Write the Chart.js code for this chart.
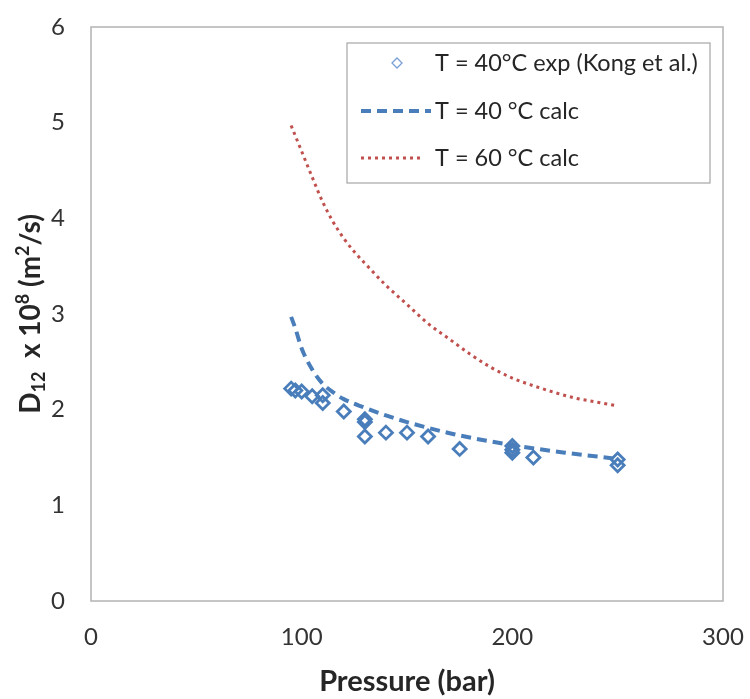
<!DOCTYPE html>
<html>
<head>
<meta charset="utf-8">
<script src="https://cdn.jsdelivr.net/npm/chart.js@4.4.1/dist/chart.umd.min.js"></script>
<style>
  html, body { margin: 0; padding: 0; background: #fff; }
  #wrap { width: 750px; height: 699px; }
</style>
</head>
<body>
<div id="wrap"><canvas id="diffChart" width="750" height="699"></canvas></div>
<script>
// experimental points, T = 40 °C (Kong et al.)
var pressureExp = [95, 97, 100, 105, 110, 110, 120, 130, 130, 130, 140, 150, 160, 175, 200, 200, 200, 210, 250, 250];
var diffExp = [2.22, 2.20, 2.19, 2.14, 2.15, 2.07, 1.98, 1.90, 1.87, 1.72, 1.76, 1.76, 1.72, 1.59, 1.62, 1.58, 1.55, 1.50, 1.48, 1.42];

// calculated, T = 40 °C
var pressureCalc40 = [95, 97, 100, 105, 110, 115, 120, 130, 140, 150, 160, 175, 200, 225, 248];
var diffCalc40 = [2.97, 2.85, 2.64, 2.42, 2.27, 2.18, 2.11, 2.02, 1.94, 1.87, 1.81, 1.73, 1.63, 1.55, 1.49];

// calculated, T = 60 °C
var pressureCalc60 = [95, 100, 105, 110, 115, 120, 125, 130, 140, 150, 160, 170, 180, 190, 200, 210, 220, 230, 240, 250];
var diffCalc60 = [4.97, 4.70, 4.43, 4.17, 3.96, 3.79, 3.65, 3.53, 3.30, 3.10, 2.90, 2.74, 2.58, 2.44, 2.33, 2.25, 2.18, 2.12, 2.08, 2.04];

var seriesLabels = ["T = 40°C exp (Kong et al.)", "T = 40 °C calc", "T = 60 °C calc"];
var xTicks = [0, 100, 200, 300];
var yTicks = [0, 1, 2, 3, 4, 5, 6];

function toPoints(xs, ys) {
  return xs.map(function (x, i) { return { x: x, y: ys[i] }; });
}

var BLUE = "#4a7ebb";
var RED = "#c0504d";
var FONT = "Lato, 'Open Sans', sans-serif";

// grey box round the plot area
var frame = {
  id: "frame",
  beforeDatasetsDraw: function (chart) {
    var a = chart.chartArea, ctx = chart.ctx;
    ctx.save();
    ctx.strokeStyle = "#b3b3b3";
    ctx.lineWidth = 1.5;
    ctx.strokeRect(a.left, a.top, a.right - a.left, a.bottom - a.top);
    ctx.restore();
  }
};

// y title with sub- and superscripts
var yTitle = {
  id: "yTitle",
  afterDraw: function (chart) {
    var ctx = chart.ctx, a = chart.chartArea;
    var parts = [
      ["D", 0], ["12", 1], ["  x 10", 0], ["8", -1], [" (m", 0], ["2", -1], ["/s)", 0]
    ];
    var big = "bold 28px " + FONT, small = "bold 18px " + FONT;
    ctx.save();
    var total = 0;
    parts.forEach(function (p) {
      ctx.font = p[1] ? small : big;
      total += ctx.measureText(p[0]).width;
    });
    ctx.translate(31, (a.top + a.bottom) / 2);
    ctx.rotate(-Math.PI / 2);
    ctx.fillStyle = "#262626";
    ctx.textBaseline = "middle";
    var x = -total / 2;
    parts.forEach(function (p) {
      ctx.font = p[1] ? small : big;
      ctx.fillText(p[0], x, p[1] * 8);
      x += ctx.measureText(p[0]).width;
    });
    ctx.restore();
  }
};

// legend box as in the original sheet
var boxLegend = {
  id: "boxLegend",
  afterDraw: function (chart) {
    var ctx = chart.ctx;
    var L = 347, T = 43, R = 710, B = 183;
    ctx.save();
    ctx.fillStyle = "#fff";
    ctx.fillRect(L, T, R - L, B - T);
    ctx.strokeStyle = "#a6a6a6";
    ctx.lineWidth = 1.2;
    ctx.strokeRect(L, T, R - L, B - T);
    var rows = [63, 111, 158];
    chart.data.datasets.forEach(function (ds, i) {
      var y = rows[i];
      if (i === 0) {
        ctx.strokeStyle = "#7a9fd6";
        ctx.lineWidth = 1.3;
        ctx.beginPath();
        ctx.moveTo(397 - 5, y);
        ctx.lineTo(397, y - 5);
        ctx.lineTo(397 + 5, y);
        ctx.lineTo(397, y + 5);
        ctx.closePath();
        ctx.stroke();
      } else {
        ctx.strokeStyle = ds.borderColor;
        ctx.lineWidth = ds.borderWidth;
        ctx.setLineDash(ds.borderDash);
        ctx.beginPath();
        ctx.moveTo(361, y);
        ctx.lineTo(i === 1 ? 431 : 424, y);
        ctx.stroke();
        ctx.setLineDash([]);
      }
      ctx.fillStyle = "#262626";
      ctx.font = "23.5px " + FONT;
      ctx.textBaseline = "middle";
      ctx.fillText(ds.label, 435, y);
    });
    ctx.restore();
  }
};

function noOverflow(s) {
  s.paddingLeft = 0; s.paddingRight = 0; s.paddingTop = 0; s.paddingBottom = 0;
}

new Chart(document.getElementById("diffChart"), {
  type: "scatter",
  data: {
    datasets: [
      {
        label: seriesLabels[0],
        data: toPoints(pressureExp, diffExp),
        pointStyle: "rectRot",
        pointRadius: 6.5,
        pointBorderWidth: 2.8,
        borderColor: BLUE,
        backgroundColor: "rgba(255,255,255,0)",
        showLine: false,
        order: 1
      },
      {
        label: seriesLabels[1],
        data: toPoints(pressureCalc40, diffCalc40),
        showLine: true,
        borderColor: BLUE,
        borderWidth: 4,
        borderDash: [10, 6],
        pointRadius: 0,
        cubicInterpolationMode: "monotone",
        order: 2
      },
      {
        label: seriesLabels[2],
        data: toPoints(pressureCalc60, diffCalc60),
        showLine: true,
        borderColor: RED,
        borderWidth: 3,
        borderDash: [3, 4],
        pointRadius: 0,
        cubicInterpolationMode: "monotone",
        order: 3
      }
    ]
  },
  options: {
    responsive: false,
    animation: false,
    layout: { padding: { top: 27, right: 27, left: 0, bottom: 0 } },
    plugins: {
      legend: { display: false },
      tooltip: { enabled: false }
    },
    scales: {
      x: {
        type: "linear",
        min: xTicks[0],
        max: xTicks[xTicks.length - 1],
        afterBuildTicks: function (s) { s.ticks = xTicks.map(function (v) { return { value: v }; }); },
        afterFit: function (s) { s.height = 98; noOverflow(s); },
        grid: { display: false, drawTicks: false },
        border: { display: false },
        ticks: { padding: 22, color: "#333", font: { family: FONT, size: 24 } },
        title: {
          display: true,
          text: "Pressure (bar)",
          color: "#262626",
          padding: { top: 0, bottom: 0 },
          font: { family: FONT, size: 29, weight: "bold" }
        }
      },
      y: {
        type: "linear",
        min: yTicks[0],
        max: yTicks[yTicks.length - 1],
        afterBuildTicks: function (s) { s.ticks = yTicks.map(function (v) { return { value: v }; }); },
        afterFit: function (s) { s.width = 91; noOverflow(s); },
        grid: { display: false, drawTicks: false },
        border: { display: false },
        ticks: { padding: 26, color: "#333", font: { family: FONT, size: 24 } }
      }
    }
  },
  plugins: [frame, yTitle, boxLegend]
});
</script>
</body>
</html>
